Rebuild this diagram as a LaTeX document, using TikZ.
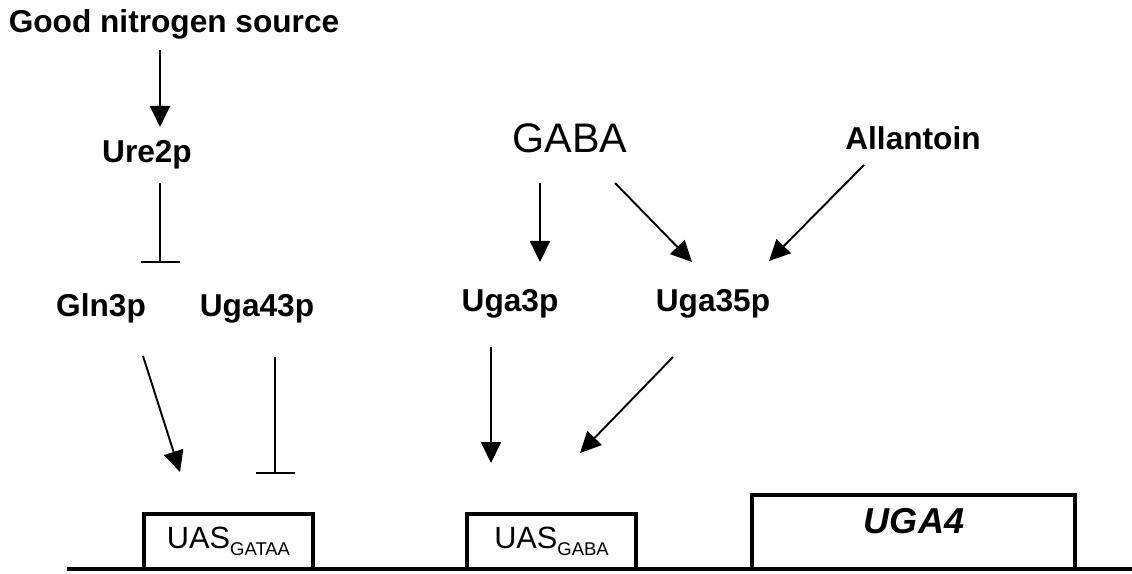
\documentclass[tikz,border=0pt]{standalone}
\usepackage{fontspec}
\setmainfont{Liberation Sans}
\usetikzlibrary{arrows.meta}
\tikzset{
 lbl/.style={font=\bfseries\fontsize{18}{21}\selectfont, anchor=base, inner sep=0pt},
 act/.style={line width=1.1pt, -{Triangle[width=0.4cm,length=0.42cm]}},
 inh/.style={line width=1.1pt, -{Bar[width=0.78cm]}},
 genebox/.style={draw, line width=2.6pt, inner sep=0pt},
 uastext/.style={font=\fontsize{17.5}{20}\selectfont, anchor=base, inner sep=0pt}
}
\newcommand{\uassub}[1]{UAS\raisebox{-4pt}{\fontsize{10.5}{12}\selectfont #1}}
\begin{document}
\begin{tikzpicture}
\useasboundingbox (0,0) rectangle (22.64,11.46);
%labels
\node[lbl] (good) at (3.48,10.80) {Good nitrogen source};
\node[lbl] (ure) at (2.94,8.20) {Ure2p};
\node[lbl] (gln) at (2.02,5.12) {Gln3p};
\node[lbl] (uga43) at (5.14,5.12) {Uga43p};
\node[anchor=base, inner sep=0pt, font=\fontsize{23.5}{28}\selectfont] (gaba) at (11.40,8.40) {GABA};
\node[lbl] (allan) at (18.26,8.46) {Allantoin};
\node[lbl] (uga3) at (10.20,5.22) {Uga3p};
\node[lbl] (uga35) at (14.26,5.22) {Uga35p};
%promoter and gene
\draw[line width=2.6pt] (1.34,0.08)--(22.64,0.08);
\node[genebox, minimum width=3.38cm, minimum height=1.10cm] (gataa) at (4.57,0.63) {};
\node[genebox, minimum width=3.38cm, minimum height=1.10cm] (gababox) at (11.03,0.63) {};
\node[genebox, minimum width=6.46cm, minimum height=1.48cm] (gene) at (18.27,0.82) {};
\node[uastext] (gatext) at (4.57,0.50) {\uassub{GATAA}};
\node[uastext] (gbtext) at (11.03,0.50) {\uassub{GABA}};
\node[anchor=base, inner sep=0pt, font=\bfseries\itshape\fontsize{20.5}{24}\selectfont] (uga4) at (18.28,0.80) {UGA4};
%arrow ends
\coordinate (goodS) at (3.20,10.46);
\coordinate (ureN) at (3.20,8.92);
\coordinate (ureS) at (3.20,7.80);
\coordinate (glnN) at (3.20,6.20);
\coordinate (glnS) at (2.86,4.34);
\coordinate (gataaN) at (3.60,2.02);
\coordinate (uga43S) at (5.50,4.32);
\coordinate (gataaR) at (5.50,1.98);
\coordinate (gabaL) at (10.80,7.80);
\coordinate (uga3N) at (10.80,6.22);
\coordinate (gabaR) at (12.30,7.80);
\coordinate (uga35N) at (13.84,6.22);
\coordinate (allanS) at (17.28,8.16);
\coordinate (uga35R) at (15.38,6.24);
\coordinate (uga3S) at (9.82,4.52);
\coordinate (gababoxL) at (9.82,2.20);
\coordinate (uga35S) at (13.46,4.32);
\coordinate (gababoxR) at (11.60,2.40);
%arrows
\draw[act] (goodS)--(ureN);
\draw[inh] (ureS)--(glnN);
\draw[act] (glnS)--(gataaN);
\draw[inh] (uga43S)--(gataaR);
\draw[act] (gabaL)--(uga3N);
\draw[act] (gabaR)--(uga35N);
\draw[act] (allanS)--(uga35R);
\draw[act] (uga3S)--(gababoxL);
\draw[act] (uga35S)--(gababoxR);
\end{tikzpicture}
\end{document}
